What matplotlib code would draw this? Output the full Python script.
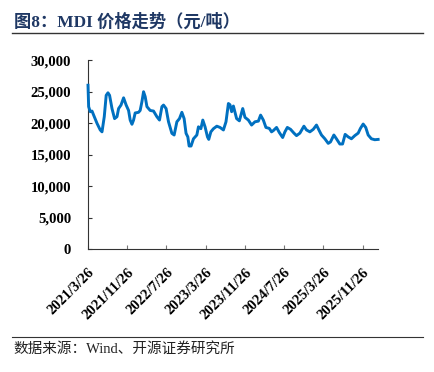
import pandas as pd
import matplotlib
matplotlib.use("Agg")
import matplotlib.pyplot as plt
from matplotlib.lines import Line2D
from matplotlib.ticker import FuncFormatter

# MDI price (days after 2021/3/26, yuan/ton)
start = pd.Timestamp("2021-03-26")
days = [0, 4, 14, 25, 35, 56, 76, 87, 101, 113, 124, 134, 149, 165, 180, 190,
        205, 221, 237, 252, 262, 273, 283, 293, 314, 324, 335, 345, 355, 366,
        386, 407, 428, 444, 459, 469, 485, 500, 521, 535, 552, 568, 583, 597,
        609, 620, 628, 640, 655, 676, 686, 701, 713, 727, 742, 750, 763, 779,
        800, 820, 841, 857, 872, 882, 892, 903, 923, 940, 961, 975, 996, 1016,
        1037, 1058, 1072, 1089, 1105, 1126, 1140, 1151, 1171, 1188, 1209, 1223,
        1238, 1258, 1279, 1295, 1316, 1341, 1357, 1378, 1399, 1419, 1436, 1450,
        1471, 1492, 1506, 1527, 1543, 1564, 1581, 1597, 1616, 1636, 1657, 1678,
        1692, 1709, 1725, 1740, 1760, 1781, 1802]
price = [26000, 22600, 21800, 21900, 21260, 19950, 18900, 18600, 21000, 24400,
         24800, 24400, 22300, 20700, 21000, 22300, 22850, 24000, 22850, 22000,
         20470, 19800, 20470, 21600, 21700, 22000, 23400, 24970, 24200, 22600,
         22000, 21900, 21000, 20470, 22600, 22850, 22300, 20200, 18360, 18100,
         20200, 20700, 21700, 20700, 18360, 17800, 16350, 16350, 17500, 18100,
         19400, 19100, 20470, 19400, 17800, 17400, 18600, 19100, 19500, 19300,
         18900, 20200, 23100, 22900, 21800, 22700, 20700, 20350, 22300, 20900,
         20470, 19680, 20200, 20300, 21260, 20470, 19300, 19150, 18600, 18800,
         19300, 18500, 17700, 18600, 19300, 19000, 18400, 18000, 18400, 19500,
         18900, 18600, 19000, 19680, 18800, 18100, 17500, 16770, 17000, 18100,
         17500, 16670, 16670, 18200, 17800, 17500, 18000, 18400, 19150, 19840,
         19300, 18100, 17500, 17350, 17400]
tick_labels = ["2021/3/26", "2021/11/26", "2022/7/26", "2023/3/26",
               "2023/11/26", "2024/7/26", "2025/3/26", "2025/11/26"]

dates = start + pd.to_timedelta(days, unit="D")
tick_dates = pd.to_datetime(tick_labels, format="%Y/%m/%d")

serif_cjk = ["Liberation Serif", "Noto Sans CJK SC"]

fig = plt.figure(figsize=(4.35, 3.72), dpi=100)
ax = fig.add_axes([0.2023, 0.3306, 0.667, 0.508])

ax.plot(dates, price, color="#0070C0", lw=2.1, zorder=3, clip_on=False)

ax.set_xlim(start, start + pd.Timedelta(days=1802))
ax.set_ylim(0, 30000)
ax.set_yticks(range(0, 30001, 5000))
ax.yaxis.set_major_formatter(FuncFormatter(lambda v, p: f"{int(v):,}"))
ax.set_xticks(tick_dates)
ax.set_xticklabels(tick_labels, rotation=45, ha="right", rotation_mode="anchor")

for lab in ax.get_yticklabels() + ax.get_xticklabels():
    lab.set_fontfamily("Liberation Serif")
    lab.set_fontweight("bold")
    lab.set_fontsize(10.6)

ax.spines["top"].set_visible(False)
ax.spines["right"].set_visible(False)
ax.spines["left"].set_color("#333333")
ax.spines["bottom"].set_color("#333333")
ax.tick_params(axis="y", direction="in", length=3, color="#333333", pad=12)
ax.tick_params(axis="x", direction="in", length=3, color="#777777", pad=12)

# title and source
fig.text(0.032, 0.941, "图8：MDI 价格走势（元/吨）", family=serif_cjk,
         fontweight="bold", fontsize=12.4, color="#1F3864", va="center")
fig.add_artist(Line2D([0.028, 0.972], [0.911, 0.911], color="#333333", lw=1))
fig.add_artist(Line2D([0.028, 0.972], [0.095, 0.095], color="#333333", lw=0.8))
fig.text(0.03, 0.063, "数据来源：Wind、开源证券研究所", family=serif_cjk,
         fontsize=10.5, color="#222222", va="center")

fig.savefig("out.png", dpi=100)
